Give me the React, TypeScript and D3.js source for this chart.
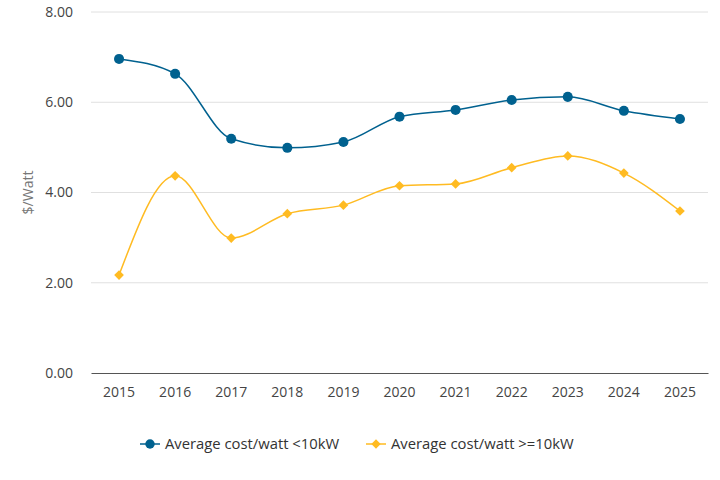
import * as d3 from "d3";
import { useEffect, useRef } from "react";

const years = ["2015", "2016", "2017", "2018", "2019", "2020", "2021", "2022", "2023", "2024", "2025"];
const smallSystems = [6.96, 6.63, 5.19, 4.99, 5.12, 5.68, 5.83, 6.05, 6.12, 5.81, 5.63];
const largeSystems = [2.17, 4.37, 2.99, 3.53, 3.72, 4.15, 4.19, 4.55, 4.81, 4.43, 3.59];
const yTicks = [0, 2, 4, 6, 8];

const seriesNames = ["Average cost/watt <10kW", "Average cost/watt >=10kW"];
const colors = ["#00618f", "#ffbb22"];

export default function App() {
  const svgRef = useRef<SVGSVGElement>(null);

  useEffect(() => {
    if (!svgRef.current) return;
    const width = 720;
    const height = 480;
    const marginLeft = 91;
    const marginRight = 12;
    const marginTop = 12;
    const marginBottom = 107;
    const font = "'Open Sans', 'Noto Sans', sans-serif";

    const svg = d3.select(svgRef.current);
    svg.selectAll("*").remove();
    svg.attr("width", width).attr("height", height).attr("viewBox", [0, 0, width, height]);

    const x = d3.scaleBand<string>().domain(years).range([marginLeft, width - marginRight]);
    const y = d3.scaleLinear().domain([0, 8]).range([height - marginBottom, marginTop]);
    const cx = (d: string) => (x(d) ?? 0) + x.bandwidth() / 2;

    // grid + y labels
    const grid = svg.append("g");
    grid
      .selectAll("line")
      .data(yTicks.filter((t) => t > 0))
      .join("line")
      .attr("x1", marginLeft)
      .attr("x2", width - marginRight)
      .attr("y1", (d) => y(d))
      .attr("y2", (d) => y(d))
      .attr("stroke", "#e0e0e0");
    grid
      .selectAll("text")
      .data(yTicks)
      .join("text")
      .attr("x", 73)
      .attr("y", (d) => y(d))
      .attr("dy", "0.35em")
      .attr("text-anchor", "end")
      .attr("font-family", font)
      .attr("font-size", 14)
      .attr("fill", "#444")
      .text((d) => d.toFixed(2));

    svg
      .append("text")
      .attr("transform", `translate(33,${y(4)}) rotate(-90)`)
      .attr("text-anchor", "middle")
      .attr("font-family", font)
      .attr("font-size", 14)
      .attr("fill", "#777")
      .text("$/Watt");

    // x axis
    const xAxis = svg
      .append("g")
      .attr("transform", `translate(0,${y(0)})`)
      .call(d3.axisBottom(x).tickSize(0).tickPadding(14));
    xAxis.select(".domain").attr("stroke", "#555").attr("stroke-width", 1.2);
    xAxis
      .selectAll("text")
      .attr("font-family", font)
      .attr("font-size", 14)
      .attr("fill", "#444");

    const line = d3
      .line<number>()
      .x((_, i) => cx(years[i]))
      .y((d) => y(d))
      .curve(d3.curveMonotoneX);

    const data = [smallSystems, largeSystems];
    data.forEach((vals, si) => {
      svg
        .append("path")
        .attr("d", line(vals))
        .attr("fill", "none")
        .attr("stroke", colors[si])
        .attr("stroke-width", 1.5);
      const sym = d3
        .symbol()
        .type(si === 0 ? d3.symbolCircle : d3.symbolDiamond2)
        .size(si === 0 ? 80 : 60);
      svg
        .append("g")
        .selectAll("path")
        .data(vals)
        .join("path")
        .attr("d", sym() ?? "")
        .attr("transform", (d, i) => `translate(${cx(years[i])},${y(d)})`)
        .attr("fill", colors[si]);
    });

    // legend
    const legendX = [140, 366];
    seriesNames.forEach((name, si) => {
      const g = svg.append("g").attr("transform", `translate(${legendX[si]},444)`);
      g.append("line").attr("x1", 0).attr("x2", 20).attr("stroke", colors[si]).attr("stroke-width", 1.5);
      g.append("path")
        .attr("d", d3.symbol().type(si === 0 ? d3.symbolCircle : d3.symbolDiamond2).size(si === 0 ? 70 : 55)() ?? "")
        .attr("transform", "translate(10,0)")
        .attr("fill", colors[si]);
      g.append("text")
        .attr("x", 25)
        .attr("dy", "0.35em")
        .attr("font-family", font)
        .attr("font-size", 14.8)
        .attr("fill", "#333")
        .text(name);
    });
  }, []);

  return <svg ref={svgRef} style={{ position: "absolute", left: 0, top: 0 }} />;
}
